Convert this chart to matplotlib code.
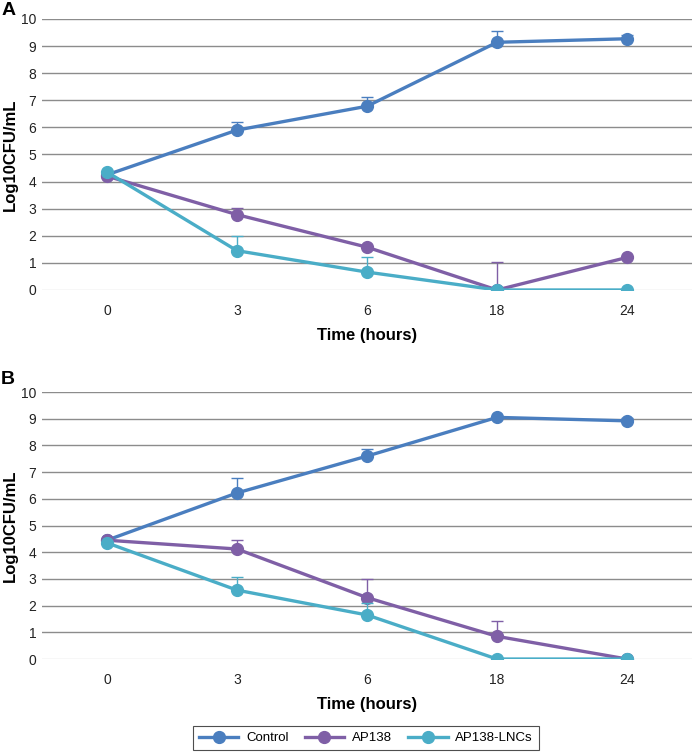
import matplotlib
matplotlib.use("Agg")
import matplotlib.pyplot as plt
import numpy as np

plt.rcParams["font.family"] = ["Liberation Sans", "DejaVu Sans"]

times = ["0", "3", "6", "18", "24"]
series = ["Control", "AP138", "AP138-LNCs"]
colors = ["#4a7ebf", "#7f5fa6", "#4aadc7"]

# panel A
a_control = [4.25, 5.9, 6.78, 9.14, 9.27]
a_control_err = [0, 0.3, 0.35, 0.43, 0.13]
a_ap138 = [4.2, 2.78, 1.58, 0.0, 1.2]
a_ap138_err = [0, 0.26, 0, 1.05, 0]
a_lncs = [4.35, 1.45, 0.66, 0.0, 0.0]
a_lncs_err = [0, 0.55, 0.57, 0, 0]

# panel B
b_control = [4.45, 6.22, 7.6, 9.05, 8.92]
b_control_err = [0, 0.55, 0.25, 0, 0.1]
b_ap138 = [4.45, 4.12, 2.3, 0.85, 0.0]
b_ap138_err = [0, 0.33, 0.68, 0.57, 0]
b_lncs = [4.35, 2.58, 1.65, 0.0, 0.0]
b_lncs_err = [0, 0.5, 0.43, 0, 0]


def draw_panel(ax, values, errs, letter, letter_y):
    x = np.arange(len(times))
    for i, (vals, err, name) in enumerate(zip(values, errs, series)):
        vals = np.array(vals)
        err = np.array(err)
        m = err > 0
        ax.errorbar(x[m], vals[m], yerr=[np.zeros(m.sum()), err[m]], fmt="none",
                    ecolor=colors[i], elinewidth=1, capsize=4, capthick=1, zorder=2 + i)
        ax.plot(x, vals, color=colors[i], lw=2.4, marker="o", ms=8.5,
                label=name, zorder=3 + i)
    ax.set_xlim(-0.5, len(times) - 0.5)
    ax.set_ylim(0, 10)
    ax.set_yticks(range(0, 11))
    ax.set_xticks(x)
    ax.set_xticklabels(times)
    ax.tick_params(length=0, labelsize=10, colors="#222222")
    ax.tick_params(axis="y", pad=4)
    ax.tick_params(axis="x", pad=10)
    for yv in range(1, 11):
        ax.axhline(yv, color="#8c8c8c", lw=1.0, zorder=0)
    ax.axhline(0, color="#d9d9d9", lw=1.0, zorder=0)
    for s in ax.spines.values():
        s.set_visible(False)
    ax.set_ylabel("Log10CFU/mL", fontsize=12, fontweight="bold")
    ax.yaxis.set_label_coords(-0.037, 0.5)
    ax.set_xlabel("Time (hours)", fontsize=12, fontweight="bold", labelpad=7)
    ax.text(-0.052, letter_y, letter, transform=ax.transAxes, fontsize=14,
            fontweight="bold", ha="center", va="center")


fig = plt.figure(figsize=(6.93, 7.53), dpi=100)
ax1 = fig.add_axes([0.0606, 0.6149, 0.938, 0.3599])
ax2 = fig.add_axes([0.0606, 0.1248, 0.938, 0.3546])

draw_panel(ax1, [a_control, a_ap138, a_lncs], [a_control_err, a_ap138_err, a_lncs_err], "A", 1.033)
draw_panel(ax2, [b_control, b_ap138, b_lncs], [b_control_err, b_ap138_err, b_lncs_err], "B", 1.045)

handles, labels = ax2.get_legend_handles_labels()
leg = fig.legend(handles, labels, loc="center", bbox_to_anchor=(0.528, 0.0195), ncol=3,
                 fontsize=9.5, frameon=True, fancybox=False, edgecolor="#222222",
                 handlelength=3, handletextpad=0.6, columnspacing=1.2, borderpad=0.45)
leg.get_frame().set_linewidth(0.8)

fig.savefig("out.png", dpi=100)
